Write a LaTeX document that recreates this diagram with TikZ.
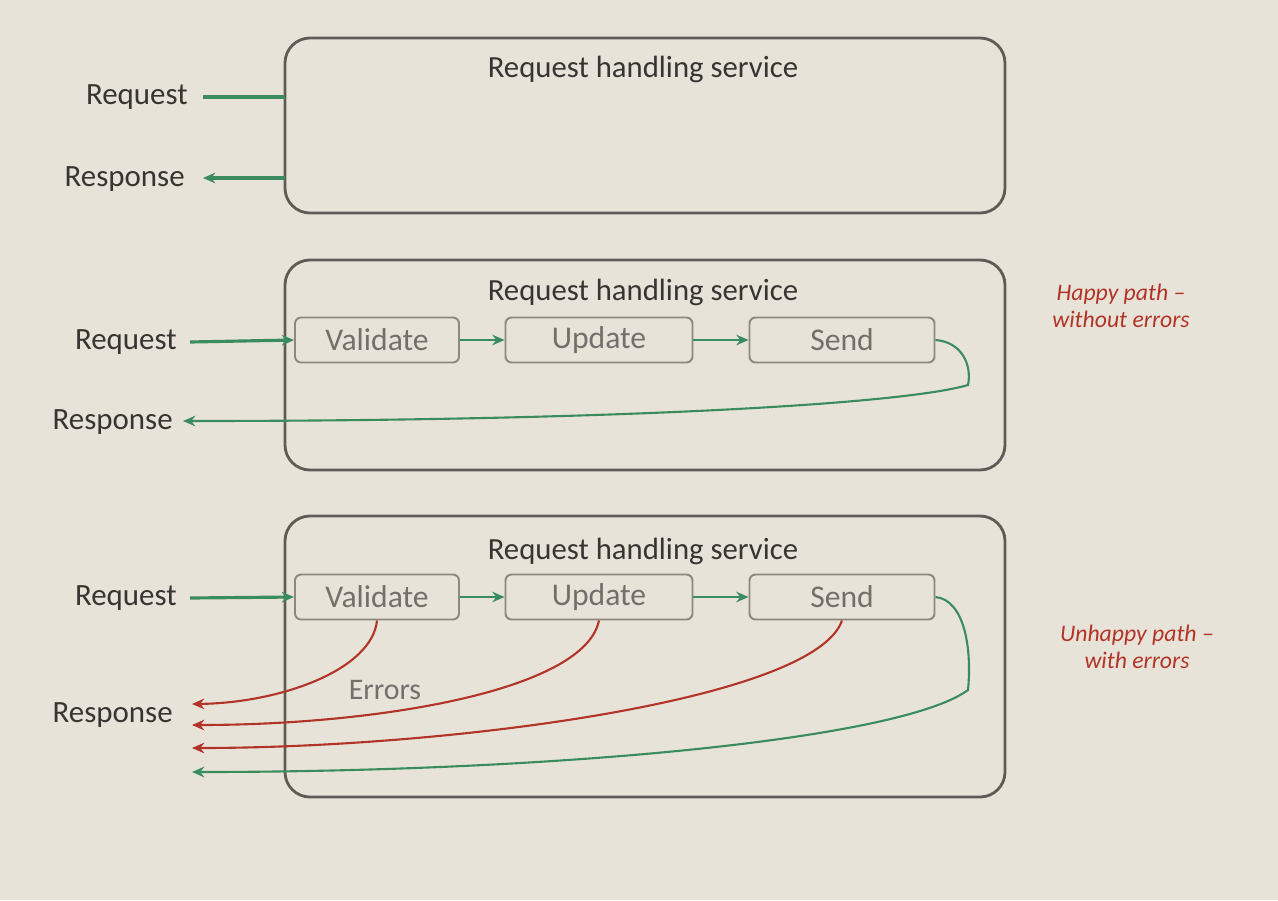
\documentclass[tikz,border=0pt]{standalone}
\usepackage{fontspec}
\setmainfont{Carlito}
\usetikzlibrary{arrows.meta,calc}
\definecolor{bg}{RGB}{232,227,216}
\definecolor{grn}{RGB}{58,140,96}
\definecolor{rd}{RGB}{178,52,40}
\definecolor{dk}{RGB}{55,53,50}
\definecolor{bx}{RGB}{95,92,88}
\definecolor{sb}{RGB}{140,135,128}
\definecolor{st}{RGB}{115,112,107}
\begin{document}
\begin{tikzpicture}[x=0.02cm,y=-0.02cm,
  big/.style={draw=bx,line width=1.6pt,rounded corners=0.5cm},
  ttl/.style={font=\fontsize{17.5pt}{20pt}\selectfont,text=dk},
  lbl/.style={font=\fontsize{17.6pt}{20pt}\selectfont,text=dk,inner sep=0pt},
  stepbox/.style={draw=sb,line width=1.1pt,rounded corners=0.12cm,minimum width=3.28cm,minimum height=0.9cm,font=\fontsize{18pt}{20pt}\selectfont,text=st,inner sep=0pt},
  garr/.style={draw=grn,line width=1.8pt,-{Stealth[length=7pt,width=6pt]}},
  gline/.style={draw=grn,line width=1.8pt},
  gcur/.style={draw=grn,line width=1.2pt,-{Stealth[length=7pt,width=6pt]}},
  rcur/.style={draw=rd,line width=1.2pt,-{Stealth[length=7pt,width=6pt]}},
  note/.style={font=\fontsize{13.5pt}{15.5pt}\selectfont\itshape,text=rd,align=center,inner sep=0pt}]
\fill[bg] (0,0) rectangle (1278,900);
\useasboundingbox (0,0) rectangle (1278,900);
% ---------- Box 1
\draw[big] (285,38) rectangle (1005,213);
\node[ttl] (t1) at (643,69) {Request handling service};
\node[lbl,anchor=east] (req1) at (188,97) {Request};
\node[lbl,anchor=east] (res1) at (185,179) {Response};
\coordinate (b1in) at (285,97);
\coordinate (b1out) at (285,178);
\draw[gline] (203,97) -- (b1in);
\draw[garr] (b1out) -- (203,178);
% ---------- Box 2
\draw[big] (285,260) rectangle (1005,470);
\node[ttl] (t2) at (643,292) {Request handling service};
\node[lbl,anchor=east] (req2) at (177,342) {Request};
\node[lbl,anchor=east] (res2) at (173,422) {Response};
\node[stepbox] (v2) at (377,340) {Validate};
\node[stepbox,minimum width=3.74cm] (u2) at (599,340) {Update};
\node[stepbox,minimum width=3.7cm] (s2) at (842,340) {Send};
\draw[garr] ($(req2.east)+(13,0)$ |- v2.west) -- (v2.west);
\draw[garr,line width=1.2pt] (v2) -- (u2);
\draw[garr,line width=1.2pt] (u2) -- (s2);
\coordinate (r2end) at (183,421);
\draw[gcur] (s2.east) .. controls (962,342) and (972,365) .. (968,385)
  .. controls (900,405) and (600,421) .. (r2end);
% ---------- Box 3
\draw[big] (285,516) rectangle (1005,797);
\node[ttl] (t3) at (643,551) {Request handling service};
\node[lbl,anchor=east] (req3) at (177,598) {Request};
\node[lbl,anchor=east] (res3) at (173,715) {Response};
\node[stepbox] (v3) at (377,597) {Validate};
\node[stepbox,minimum width=3.74cm] (u3) at (599,597) {Update};
\node[stepbox,minimum width=3.7cm] (s3) at (842,597) {Send};
\draw[garr] ($(req3.east)+(13,0)$ |- v3.west) -- (v3.west);
\draw[garr,line width=1.2pt] (v3) -- (u3);
\draw[garr,line width=1.2pt] (u3) -- (s3);
\node[font=\fontsize{17pt}{20pt}\selectfont,text=st] (err) at (385,690) {Errors};
\coordinate (e1) at (192,704);
\coordinate (e2) at (192,725);
\coordinate (e3) at (192,748);
\coordinate (e4) at (192,772);
\draw[rcur] (v3.south) .. controls (372,670) and (280,703) .. (e1);
\draw[rcur] (u3.south) .. controls (585,690) and (380,725) .. (e2);
\draw[rcur] (s3.south) .. controls (815,700) and (450,748) .. (e3);
\draw[gcur] (s3.east) .. controls (965,600) and (972,650) .. (968,690)
  .. controls (900,740) and (550,772) .. (e4);
% ---------- notes
\node[note] (n1) at (1121,306) {Happy path --\\without errors};
\node[note] (n2) at (1137,647) {Unhappy path --\\with errors};
\end{tikzpicture}
\end{document}
